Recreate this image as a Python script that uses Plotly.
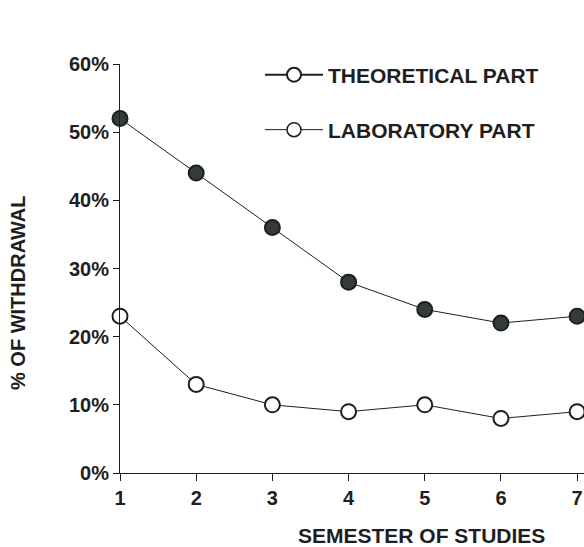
import plotly.graph_objects as go

semesters = [1, 2, 3, 4, 5, 6, 7]
theoretical = [0.52, 0.44, 0.36, 0.28, 0.24, 0.22, 0.23]
laboratory = [0.23, 0.13, 0.10, 0.09, 0.10, 0.08, 0.09]
y_ticks = [0, 0.1, 0.2, 0.3, 0.4, 0.5, 0.6]

INK = "#1e1e1e"
FILL_DARK = "#333b3b"
FONT = "Liberation Sans, Arial, sans-serif"

W, H = 584, 547
L, T, B = 120, 64, 74

fig = go.Figure()

fig.add_trace(go.Scatter(
    x=semesters, y=theoretical, mode="lines+markers", showlegend=False,
    line=dict(color=INK, width=1),
    marker=dict(size=15, color=FILL_DARK, line=dict(color=INK, width=2)),
    cliponaxis=False,
))
fig.add_trace(go.Scatter(
    x=semesters, y=laboratory, mode="lines+markers", showlegend=False,
    line=dict(color=INK, width=1),
    marker=dict(size=15, color="white", line=dict(color=INK, width=2)),
    cliponaxis=False,
))

# legend entries (the original legend shows open circles for both)
fig.add_trace(go.Scatter(
    x=[None], y=[None], mode="lines+markers", name="<b>THEORETICAL PART</b>",
    line=dict(color=INK, width=2),
    marker=dict(size=14, color="white", line=dict(color=INK, width=2)),
    legend="legend",
))
fig.add_trace(go.Scatter(
    x=[None], y=[None], mode="lines+markers", name="<b>LABORATORY PART</b>",
    line=dict(color=INK, width=1),
    marker=dict(size=14, color="white", line=dict(color=INK, width=1.5)),
    legend="legend2",
))

legend_common = dict(
    font=dict(family=FONT, size=21, color=INK),
    bgcolor="rgba(0,0,0,0)", itemwidth=58,
    xref="container", yref="container", xanchor="left", yanchor="middle",
)
fig.update_layout(
    width=W, height=H,
    paper_bgcolor="white", plot_bgcolor="white",
    margin=dict(l=L, r=0, t=T, b=B, autoexpand=False),
    font=dict(family=FONT, size=20, color=INK),
    legend=dict(x=260 / W, y=1 - 75 / H, **legend_common),
    legend2=dict(x=260 / W, y=1 - 130 / H, **legend_common),
)

tickfont = dict(family=FONT, size=20, color=INK)
fig.update_xaxes(
    range=[1, 7.09], tickvals=semesters,
    ticktext=[f"<b>{s}</b>" for s in semesters],
    showgrid=False, zeroline=False, showline=True, linecolor=INK, linewidth=1,
    ticks="outside", ticklen=7, tickcolor=INK, tickfont=tickfont,
)
fig.update_yaxes(
    range=[0, 0.6], tickvals=y_ticks,
    ticktext=[f"<b>{int(round(v * 100))}%</b>" for v in y_ticks],
    showgrid=False, zeroline=False, showline=True, linecolor=INK, linewidth=1,
    ticks="outside", ticklen=6, tickcolor=INK, tickfont=tickfont,
)

pw, ph = W - L, H - T - B
fig.add_annotation(
    text="<b>SEMESTER OF STUDIES</b>", xref="paper", yref="paper",
    x=(421 - L) / pw, y=-(535 - (H - B)) / ph, showarrow=False,
    xanchor="center", yanchor="middle", font=dict(family=FONT, size=21, color=INK),
)
fig.add_annotation(
    text="<b>% OF WITHDRAWAL</b>", xref="paper", yref="paper",
    x=-(L - 18) / pw, y=((H - B) - 293) / ph, showarrow=False, textangle=-90,
    xanchor="center", yanchor="middle", font=dict(family=FONT, size=20, color=INK),
)

# drop the default page margin so the figure fills the window exactly
fig.write_html(
    "out.html",
    config={"displayModeBar": False},
    post_script="document.body.style.margin='0';",
)
